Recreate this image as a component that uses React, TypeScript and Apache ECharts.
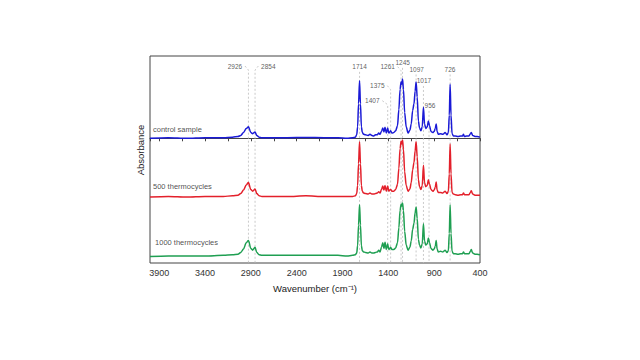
import React, { useEffect, useRef } from "react";
import * as echarts from "echarts";

// Wavenumbers (cm-1), descending
const WAVENUMBERS = [
  4000, 3800, 3600, 3400, 3200, 3100, 3040, 3010, 2980, 2950, 2926, 2900, 2880, 2854, 2835, 2810, 2780, 2700,
  2500, 2300, 2100, 1950, 1850, 1790, 1760, 1745, 1735, 1725, 1714, 1704, 1694, 1684, 1670, 1650, 1620, 1600,
  1580, 1560, 1540, 1520, 1505, 1490, 1475, 1460, 1448, 1436, 1422, 1407, 1395, 1385, 1375, 1360, 1340, 1320,
  1300, 1285, 1272, 1261, 1253, 1245, 1235, 1222, 1205, 1185, 1165, 1150, 1135, 1120, 1108, 1097, 1085, 1072,
  1060, 1045, 1030, 1017, 1005, 992, 975, 964, 950, 935, 915, 900, 888, 878, 868, 855, 830, 805, 780, 760, 745,
  735, 726, 716, 705, 690, 670, 640, 610, 590, 580, 570, 545, 520, 505, 495, 480, 455, 430, 400,
];

const CONTROL = [
  0, 0.01, 0, 0.01, 0.01, 0.02, 0.03, 0.05, 0.1, 0.17, 0.2, 0.1, 0.08, 0.11, 0.05, 0.02, 0.01, 0.01,
  0.01, 0.015, 0.01, 0.01, 0, 0.01, 0.02, 0.06, 0.2, 0.6, 1.0, 0.6, 0.2, 0.1, 0.07, 0.06, 0.05, 0.07,
  0.05, 0.04, 0.06, 0.06, 0.09, 0.07, 0.12, 0.18, 0.11, 0.19, 0.09, 0.18, 0.09, 0.11, 0.13, 0.09, 0.1, 0.13,
  0.22, 0.5, 0.85, 0.98, 0.94, 1.03, 0.85, 0.45, 0.2, 0.09, 0.14, 0.25, 0.48, 0.6, 0.82, 0.98, 0.72, 0.3,
  0.18, 0.13, 0.2, 0.54, 0.25, 0.17, 0.2, 0.3, 0.22, 0.12, 0.1, 0.12, 0.17, 0.25, 0.12, 0.07, 0.08, 0.07, 0.1, 0.06, 0.1,
  0.4, 0.94, 0.4, 0.08, 0.04, 0.04, 0.03, 0.04, 0.04, 0.07, 0.03, 0.04, 0.04, 0.08, 0.1, 0.05, 0.03, 0.03, 0.02,
];

const CYCLES_500 = [
  0, 0.01, 0, 0.01, 0.01, 0.02, 0.03, 0.06, 0.12, 0.21, 0.25, 0.13, 0.1, 0.14, 0.06, 0.02, 0.01, 0.01,
  0.01, 0.02, 0.01, 0.01, 0.01, 0.01, 0.02, 0.06, 0.2, 0.58, 0.96, 0.58, 0.2, 0.1, 0.07, 0.06, 0.05, 0.07,
  0.05, 0.05, 0.06, 0.07, 0.09, 0.07, 0.13, 0.19, 0.12, 0.2, 0.1, 0.19, 0.1, 0.12, 0.13, 0.1, 0.1, 0.13,
  0.22, 0.5, 0.84, 0.97, 0.92, 0.99, 0.83, 0.44, 0.2, 0.1, 0.14, 0.25, 0.47, 0.6, 0.8, 0.96, 0.7, 0.3,
  0.18, 0.13, 0.2, 0.55, 0.25, 0.18, 0.2, 0.3, 0.22, 0.13, 0.1, 0.12, 0.17, 0.26, 0.12, 0.08, 0.08, 0.07, 0.1, 0.06, 0.1,
  0.4, 0.92, 0.4, 0.08, 0.05, 0.04, 0.03, 0.04, 0.04, 0.07, 0.04, 0.04, 0.04, 0.08, 0.11, 0.05, 0.03, 0.03, 0.03,
];

const CYCLES_1000 = [
  0, 0.01, 0.01, 0.01, 0.02, 0.03, 0.04, 0.07, 0.13, 0.24, 0.28, 0.14, 0.11, 0.16, 0.07, 0.03, 0.02, 0.02,
  0.02, 0.02, 0.02, 0.02, 0.01, 0.02, 0.03, 0.06, 0.19, 0.55, 0.9, 0.55, 0.19, 0.1, 0.08, 0.07, 0.06, 0.08,
  0.06, 0.06, 0.07, 0.08, 0.11, 0.08, 0.16, 0.24, 0.14, 0.25, 0.12, 0.22, 0.12, 0.14, 0.16, 0.12, 0.12, 0.15,
  0.24, 0.5, 0.8, 0.91, 0.88, 0.93, 0.8, 0.44, 0.2, 0.11, 0.16, 0.27, 0.47, 0.58, 0.76, 0.86, 0.66, 0.3,
  0.2, 0.15, 0.22, 0.57, 0.27, 0.2, 0.22, 0.32, 0.24, 0.14, 0.11, 0.13, 0.18, 0.28, 0.13, 0.08, 0.09, 0.08, 0.11, 0.07, 0.1,
  0.4, 0.9, 0.4, 0.09, 0.05, 0.05, 0.04, 0.05, 0.05, 0.08, 0.05, 0.05, 0.05, 0.09, 0.12, 0.06, 0.04, 0.04, 0.03,
];

const SAMPLE_NAMES = ["control sample", "500 thermocycles", "1000 thermocycles"];
const SAMPLE_COLORS = ["#1a1ad6", "#e3202b", "#1f9f52"];
// Name label position: [wavenumber, absorbance above own baseline]
const SAMPLE_LABEL_POS = [
  [3967, 0.16],
  [3967, 0.19],
  [3945, 0.24],
];
// Absorbance at bottom of plot for each sample's own axis
const AXIS_MIN = [-2.169, -1.148, -0.113];
const AXIS_SPAN = 3.6;

// Peak annotations (in control sample axis units)
const PEAK_WN = [2926, 2854, 1714, 1407, 1375, 1261, 1245, 1097, 1017, 956, 726];
const PEAK_LABEL_WN = [3073, 2709, 1714, 1575, 1520, 1407, 1243, 1091, 1011, 945, 727];
const PEAK_LABEL_Y = [1.257, 1.257, 1.245, 0.654, 0.915, 1.245, 1.315, 1.2, 1.0, 0.567, 1.2];

const X_TICKS_INTERVAL = 500;

export default function App() {
  const ref = useRef<HTMLDivElement>(null);
  useEffect(() => {
    if (!ref.current) return;
    const chart = echarts.init(ref.current, undefined, { renderer: "svg" });
    const font = "Liberation Sans";
    const bottom = AXIS_MIN[0];
    const pxToWn = 10.9;
    const leaders = PEAK_WN.map((wn, i) => {
      const lw = PEAK_LABEL_WN[i];
      const ly = PEAK_LABEL_Y[i];
      if (Math.abs(lw - wn) < 30) {
        return { coords: [[wn, ly - 0.09], [wn, bottom]] };
      }
      const start = lw + Math.sign(wn - lw) * 10 * pxToWn;
      return { coords: [[start, ly], [wn, ly - 0.07], [wn, bottom]] };
    });

    const yAxes = AXIS_MIN.map((mn) => ({
      type: "value",
      min: mn,
      max: mn + AXIS_SPAN,
      show: false,
    }));

    const spectra = [CONTROL, CYCLES_500, CYCLES_1000].map((vals, i) => ({
      type: "line",
      name: SAMPLE_NAMES[i],
      yAxisIndex: i,
      data: WAVENUMBERS.map((w, j) => [w, vals[j]]),
      showSymbol: false,
      symbol: "none",
      smooth: 0.3,
      smoothMonotone: "x",
      lineStyle: { color: SAMPLE_COLORS[i], width: 1.5 },
      z: 3,
    }));

    const nameLabels = SAMPLE_NAMES.map((n, i) => ({
      type: "scatter",
      yAxisIndex: i,
      symbolSize: 0,
      data: [{ value: SAMPLE_LABEL_POS[i], name: n }],
      label: {
        show: true,
        position: "right",
        distance: 0,
        formatter: "{b}",
        fontFamily: font,
        fontSize: 7.5,
        color: "#222",
      },
      z: 4,
    }));

    chart.setOption({
      animation: false,
      grid: {
        left: 150,
        right: 160,
        top: 56,
        bottom: 97,
        show: true,
        borderColor: "#444",
        borderWidth: 1,
      },
      xAxis: {
        type: "value",
        inverse: true,
        min: 400,
        max: 4000,
        interval: X_TICKS_INTERVAL,
        name: "Wavenumber (cm\u207B\u00B9)",
        nameLocation: "middle",
        nameGap: 20,
        nameTextStyle: { fontFamily: font, fontSize: 9.5, color: "#222" },
        axisLine: { show: true, lineStyle: { color: "#444" } },
        axisTick: { show: true, length: 3, lineStyle: { color: "#444" } },
        minorTick: { show: true, splitNumber: 2, length: 3, lineStyle: { color: "#444" } },
        splitLine: { show: false },
        axisLabel: {
          fontFamily: font,
          fontSize: 9,
          color: "#333",
          margin: 5,
          showMaxLabel: false,
          formatter: (v: number) => String(v),
        },
      },
      yAxis: yAxes,
      graphic: [
        {
          type: "text",
          x: 140,
          y: 150,
          rotation: Math.PI / 2,
          style: {
            text: "Absorbance",
            fontFamily: font,
            fontSize: 9.5,
            fill: "#222",
            align: "center",
            verticalAlign: "middle",
          },
        },
      ],
      series: [
        {
          type: "lines",
          coordinateSystem: "cartesian2d",
          yAxisIndex: 0,
          polyline: true,
          silent: true,
          data: leaders,
          lineStyle: { color: "#bdbdbd", width: 0.8, type: [2, 2], opacity: 1 },
          z: 1,
        },
        ...spectra,
        ...nameLabels,
        {
          type: "scatter",
          yAxisIndex: 0,
          symbolSize: 0,
          data: PEAK_WN.map((wn, i) => ({
            value: [PEAK_LABEL_WN[i], PEAK_LABEL_Y[i]],
            name: String(wn),
          })),
          label: {
            show: true,
            position: "inside",
            formatter: "{b}",
            fontFamily: font,
            fontSize: 6.5,
            color: "#333",
          },
          z: 4,
        },
      ],
    });
    return () => chart.dispose();
  }, []);
  return (
    <div
      ref={ref}
      style={{ position: "fixed", left: 0, top: 0, width: 640, height: 360, background: "#fff" }}
    />
  );
}
